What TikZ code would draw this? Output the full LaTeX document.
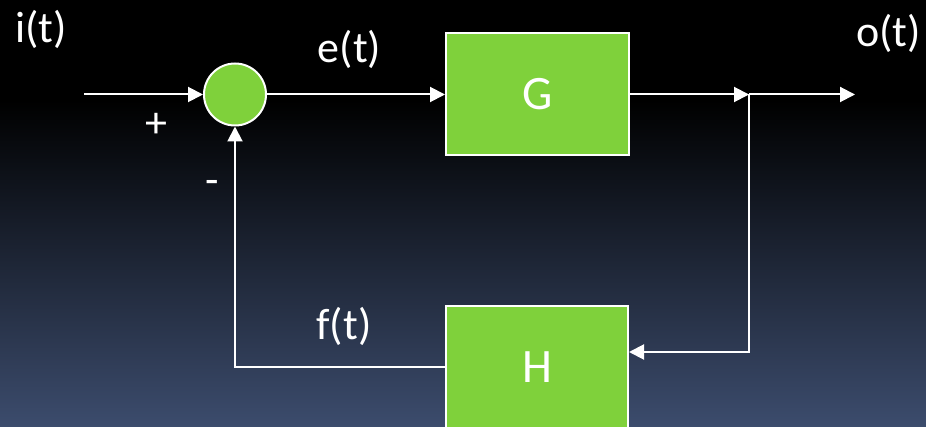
\documentclass[tikz,border=0pt]{standalone}
\usepackage{fontspec}
\setmainfont{Carlito}
\usetikzlibrary{arrows.meta}
\definecolor{blkgreen}{HTML}{7FD13B}
\definecolor{bgbottom}{RGB}{60,76,109}
\begin{document}
\begin{tikzpicture}[x=1pt,y=-1pt,
  sig/.style={draw=white,line width=2pt,-{Triangle[length=15pt,width=15pt]}},
  blockbox/.style={draw=white,line width=2pt,fill=blkgreen,minimum width=183pt,minimum height=122pt,inner sep=0pt,text=white,font=\fontsize{48}{56}\selectfont},
  sumnode/.style={circle,draw=white,line width=2pt,fill=blkgreen,minimum size=62pt,inner sep=0pt},
  lbl/.style={text=white,inner sep=0pt,anchor=base,font=\fontsize{44}{50}\selectfont},
  signlbl/.style={text=white,inner sep=0pt,anchor=center,font=\fontsize{44}{50}\selectfont}]
\fill[black] (0,0) rectangle (926,101);
\shade[top color=black,bottom color=bgbottom] (0,100) rectangle (926,427);
\useasboundingbox (0,0) rectangle (926,427);
% blocks
\node[sumnode] (sum) at (235,94.5) {};
\node[blockbox] (G) at (537.5,94.5) {G};
\node[blockbox,minimum width=182pt] (H) at (537,367) {H};
% connectors
\coordinate (start) at (84,94.5);
\coordinate (junc) at (749,94.5);
\coordinate (outend) at (855,94.5);
\coordinate (fbturn) at (749,352);
\coordinate (fbcorner) at (235,367);
\draw[sig] (start) -- (sum.west);
\draw[sig] (sum.east) -- (G.west);
\draw[sig] (G.east) -- (junc);
\draw[sig] (junc) -- (outend);
\draw[sig] (junc) -- (fbturn) -- (H.east |- fbturn);
\draw[sig] (H.west) -- (fbcorner) -- (sum.south);
% labels
\node[lbl] (it) at (41,43) {i(t)};
\node[lbl] (et) at (349.5,63) {e(t)};
\node[lbl] (ot) at (888.5,47) {o(t)};
\node[lbl] (ft) at (344,340) {f(t)};
\node[signlbl] (plus) at (156,125) {+};
\node[signlbl] (minus) at (212.5,187) {-};
\end{tikzpicture}
\end{document}
